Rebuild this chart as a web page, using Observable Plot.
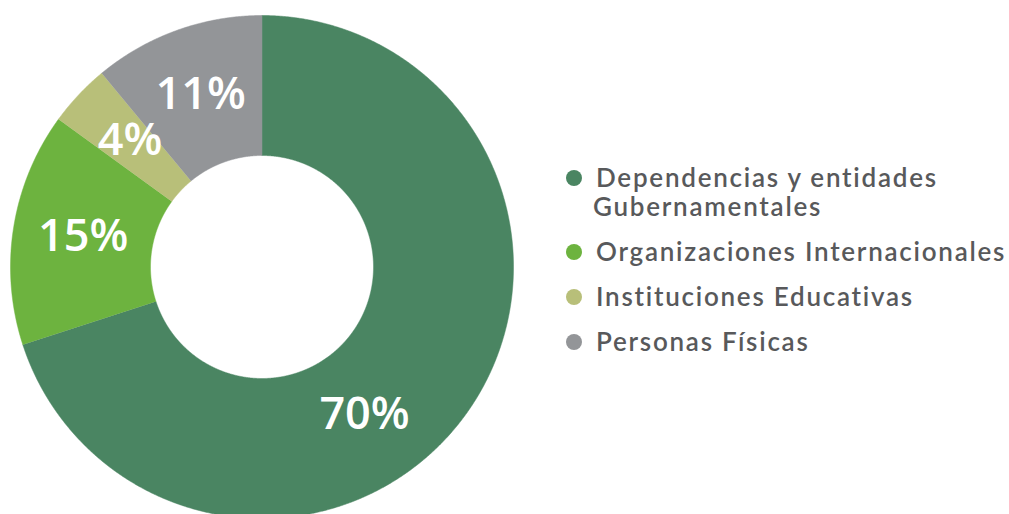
<!DOCTYPE html>
<html><head><meta charset="utf-8">
<script src="https://cdn.jsdelivr.net/npm/d3@7"></script>
<script src="https://cdn.jsdelivr.net/npm/@observablehq/plot@0.6"></script>
<style>
html,body{margin:0;padding:0;background:#fff;}
#wrap{position:relative;width:1009px;height:514px;overflow:hidden;}
#wrap svg{position:absolute;left:0;top:0;}
#legend{position:absolute;left:566px;top:163px;font-family:Lato,"Noto Sans",sans-serif;font-weight:600;font-size:26px;color:#58595b;letter-spacing:1.75px;white-space:nowrap;}
.item{display:flex;align-items:flex-start;line-height:29px;margin-bottom:16px;}
.sw{width:16px;height:16px;border-radius:50%;margin-top:6.5px;margin-right:14px;flex:none;}
.cont{display:block;margin-left:-3px;}
</style></head><body><div id="wrap"><div id="legend"></div></div>
<script>
const categories = ["Dependencias y entidades Gubernamentales","Organizaciones Internacionales","Instituciones Educativas","Personas Físicas"];
const legendLines = [["Dependencias y entidades","Gubernamentales"],["Organizaciones Internacionales"],["Instituciones Educativas"],["Personas Físicas"]];
const values = [70,15,4,11];
const labels = ["70%","15%","4%","11%"];
const colors = ["#4a8562","#6db33f","#b8bf79","#939598"];

// geometry (layout)
const cx = 261.5, cy = 266.5, R = 251.5, rInner = 111.5;
const inner = rInner / R;
const labelR = 0.72;
const labelAngleOverride = {0: 145.5 * Math.PI / 180};

const arcs = d3.pie().sort(null).value(d => d)(values);

const poly = [];
arcs.forEach((a, i) => {
  const n = Math.max(8, Math.ceil((a.endAngle - a.startAngle) / 0.004));
  for (let k = 0; k <= n; k++) {
    const t = a.startAngle + (a.endAngle - a.startAngle) * k / n;
    poly.push({cat: categories[i], x: Math.sin(t), y: Math.cos(t)});
  }
  for (let k = n; k >= 0; k--) {
    const t = a.startAngle + (a.endAngle - a.startAngle) * k / n;
    poly.push({cat: categories[i], x: inner * Math.sin(t), y: inner * Math.cos(t)});
  }
});

const labelData = arcs.map((a, i) => {
  const t = labelAngleOverride[i] ?? (a.startAngle + a.endAngle) / 2;
  return {text: labels[i], x: labelR * Math.sin(t), y: labelR * Math.cos(t)};
});

const chart = Plot.plot({
  width: 1009,
  height: 514,
  margin: 0,
  x: {domain: [-1, 1], range: [cx - R, cx + R], axis: null},
  y: {domain: [-1, 1], range: [cy + R, cy - R], axis: null},
  color: {domain: categories, range: colors},
  style: {background: "transparent"},
  marks: [
    Plot.line(poly, {x: "x", y: "y", z: "cat", fill: "cat", stroke: "cat", strokeWidth: 0.5, curve: "linear"}),
    Plot.text(labelData, {x: "x", y: "y", dy: -2, text: "text", fill: "white", fontSize: 45, fontWeight: 600, fontFamily: "Open Sans"})
  ]
});
document.getElementById("wrap").prepend(chart);

const legend = document.getElementById("legend");
categories.forEach((c, i) => {
  const item = document.createElement("div");
  item.className = "item";
  const sw = document.createElement("div");
  sw.className = "sw";
  sw.style.background = colors[i];
  const tx = document.createElement("div");
  legendLines[i].forEach((line, j) => {
    const s = document.createElement("span");
    s.className = j === 0 ? "" : "cont";
    s.style.display = "block";
    s.textContent = line;
    tx.append(s);
  });
  item.append(sw, tx);
  legend.append(item);
});
</script></body></html>
